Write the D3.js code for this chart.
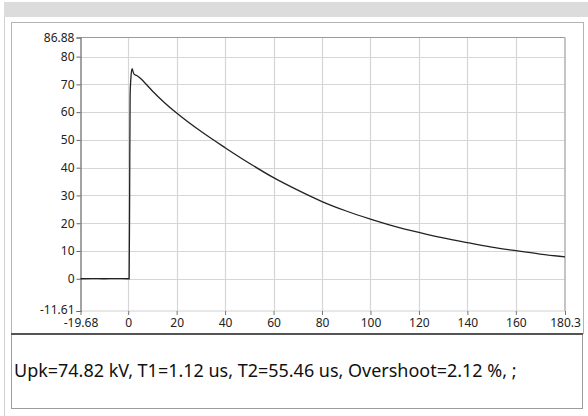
<!DOCTYPE html>
<html><head><meta charset="utf-8">
<script src="https://cdn.jsdelivr.net/npm/d3@7"></script>
<style>
html,body{margin:0;padding:0;background:#fff;}
svg{display:block;}
</style></head>
<body>
<svg id="c" width="588" height="416"></svg>
<script>
// ---- data ----
const timeUs = [-19.68, -15, -10, -5, 0, 0.4, 0.6, 0.8, 1.1, 1.6, 2.0, 2.5, 3.5, 4.5, 6, 8, 10, 15, 20, 30, 40, 50, 60, 70, 80, 90, 100, 110, 120, 130, 140, 150, 160, 170, 180.3];
const voltageKV = [0, 0.05, 0, 0.05, 0, 0, 30, 66, 72, 75.7, 74.6, 73.6, 73.2, 72.6, 71.4, 69.5, 67.6, 63.4, 59.7, 53.1, 47.2, 41.6, 36.4, 31.9, 27.8, 24.4, 21.5, 18.9, 16.7, 14.7, 13.0, 11.4, 10.1, 8.9, 7.9];
const xTicks = [-19.68, 0, 20, 40, 60, 80, 100, 120, 140, 160, 180.3];
const yTicks = [-11.61, 0, 10, 20, 30, 40, 50, 60, 70, 80, 86.88];
const xGrid = [0, 20, 40, 60, 80, 100, 120, 140, 160];
const yGrid = [0, 10, 20, 30, 40, 50, 60, 70, 80];
const resultText = "Upk=74.82 kV, T1=1.12 us, T2=55.46 us, Overshoot=2.12 %, ;";

const svg = d3.select("#c");
const font = "'Noto Sans', 'Open Sans', sans-serif";

// window chrome
svg.append("rect").attr("x",4).attr("y",2).attr("width",584).attr("height",15).attr("fill","#dcdcdc");
svg.append("line").attr("x1",4.5).attr("x2",4.5).attr("y1",17).attr("y2",416).attr("stroke","#d0d0d0");
// chart panel box
svg.append("rect").attr("x",11.5).attr("y",22.5).attr("width",572).attr("height",311).attr("fill","#fff").attr("stroke","#b4b4b4");

const L=80.5, R=565, T=37.5, B=311;
const x = d3.scaleLinear().domain([xTicks[0], xTicks[xTicks.length-1]]).range([L, R]);
const y = d3.scaleLinear().domain([yTicks[0], yTicks[yTicks.length-1]]).range([B, T]);

// grid
const g = svg.append("g");
g.selectAll(".vg").data(xGrid).join("line")
  .attr("x1",d=>Math.round(x(d))+0.5).attr("x2",d=>Math.round(x(d))+0.5).attr("y1",T).attr("y2",B)
  .attr("stroke","#d6d6d6").attr("stroke-width",1.2);
g.selectAll(".hg").data(yGrid).join("line")
  .attr("y1",d=>Math.round(y(d))+0.5).attr("y2",d=>Math.round(y(d))+0.5).attr("x1",L).attr("x2",R)
  .attr("stroke","#d6d6d6").attr("stroke-width",1.2);
// frame
svg.append("line").attr("x1",L).attr("x2",R).attr("y1",T).attr("y2",T).attr("stroke","#9a9a9a").attr("stroke-width",1.2);
svg.append("line").attr("x1",R).attr("x2",R).attr("y1",T).attr("y2",B).attr("stroke","#b0b0b0").attr("stroke-width",1.5);
svg.append("line").attr("x1",L).attr("x2",R).attr("y1",B).attr("y2",B).attr("stroke","#d0d0d0").attr("stroke-width",1);

// axes
const ya = svg.append("g").attr("transform",`translate(${L},0)`)
  .call(d3.axisLeft(y).tickValues(yTicks).tickFormat(d=>String(d)).tickSize(4).tickPadding(2));
ya.select(".domain").attr("stroke","#666").attr("stroke-width",1.2);
ya.selectAll(".tick line").attr("stroke","#666");
ya.selectAll("text").attr("font-family",font).attr("font-size",12).attr("fill","#222");
ya.selectAll(".tick").filter(d=>d===yTicks[0]).select("text").attr("dy","0.2em");

const xa = svg.append("g").attr("transform",`translate(0,${B})`)
  .call(d3.axisBottom(x).tickValues(xTicks).tickFormat(d=>String(d)).tickSize(4).tickPadding(3));
xa.select(".domain").remove();
xa.selectAll(".tick line").attr("stroke","#777");
xa.selectAll("text").attr("font-family",font).attr("font-size",12).attr("fill","#222");

// waveform
const pts = timeUs.map((t,i)=>[t, voltageKV[i]]);
svg.append("path").datum(pts)
  .attr("d", d3.line().x(d=>x(d[0])).y(d=>y(d[1])).curve(d3.curveMonotoneX))
  .attr("fill","none").attr("stroke","#222").attr("stroke-width",1.3);

// result text box
svg.append("rect").attr("x",11.5).attr("y",334).attr("width",571).attr("height",74.5).attr("fill","#fff").attr("stroke","#9c9c9c");
svg.append("line").attr("x1",11).attr("x2",583).attr("y1",334).attr("y2",334).attr("stroke","#555").attr("stroke-width",2);
const tx = svg.append("text").attr("x",14).attr("y",377).attr("font-family",font).attr("font-size",18).attr("fill","#111").text(resultText);
const w = tx.node().getComputedTextLength();
tx.attr("font-size", 18*503/w);
</script>
</body></html>
